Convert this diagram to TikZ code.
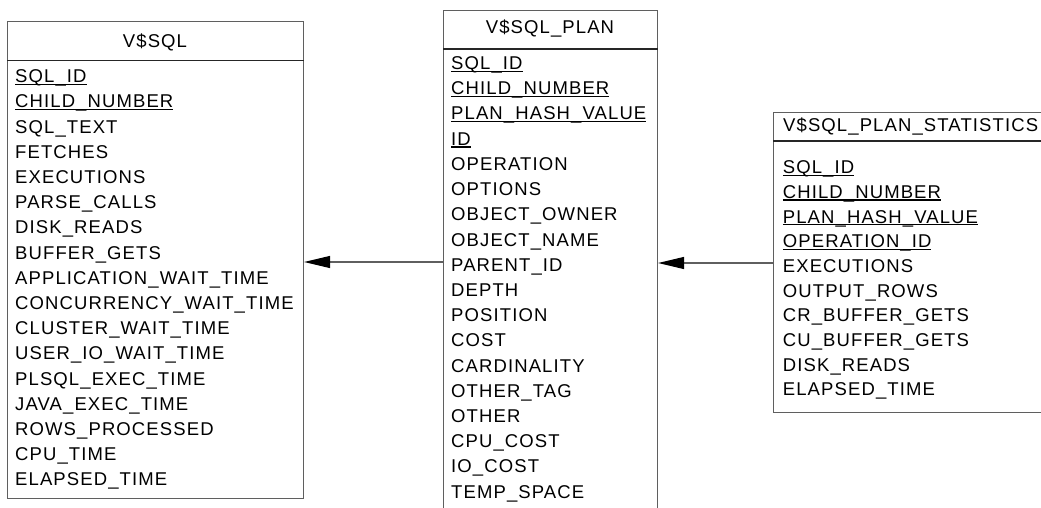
\documentclass[tikz,border=0pt]{standalone}
\usepackage{fontspec}
\setmainfont{Liberation Sans}[LetterSpace=6]
\usetikzlibrary{arrows.meta}
\definecolor{boxgray}{RGB}{95,95,95}
\newcommand\keyfld[1]{\setbox0\hbox{#1}\rlap{\usebox0}\rule[-2.4pt]{\wd0}{1.3pt}}
\begin{document}
\begin{tikzpicture}[x=1pt,y=-1pt,
  tbl/.style={draw=boxgray,line width=1.1pt,inner sep=0pt,anchor=north west,fill=white},
  hdr/.style={draw=black!85,line width=1.1pt},
  fld/.style={anchor=base west,inner sep=0pt,font=\fontsize{18.5}{20}\selectfont},
  ttl/.style={anchor=base,inner sep=0pt,font=\fontsize{18.5}{20}\selectfont},
  fk/.style={draw=boxgray,line width=1.1pt,-{Triangle[length=26pt,width=12pt,fill=black,color=black]}}]
\useasboundingbox (0,0) rectangle (1041,508);
\clip (0,0) rectangle (1041,508);
\fill[white] (0,0) rectangle (1041,508);
% V$SQL
\node[tbl,minimum width=296pt,minimum height=477pt] (sql) at (7,21) {};
\draw[hdr] (sql.west |- 0,60.7) coordinate (sqlh) -- (sql.east |- sqlh);
\node[ttl] (sqlt) at (155,47.3) {V\$SQL};
\foreach \t [count=\i from 0] in {\keyfld{SQL\_ID},\keyfld{CHILD\_NUMBER},SQL\_TEXT,FETCHES,EXECUTIONS,PARSE\_CALLS,DISK\_READS,BUFFER\_GETS,APPLICATION\_WAIT\_TIME,CONCURRENCY\_WAIT\_TIME,CLUSTER\_WAIT\_TIME,USER\_IO\_WAIT\_TIME,PLSQL\_EXEC\_TIME,JAVA\_EXEC\_TIME,ROWS\_PROCESSED,CPU\_TIME,ELAPSED\_TIME}
  \node[fld] (sqlf\i) at (15,82.7+25.2*\i) {\t};
% V$SQL_PLAN
\node[tbl,minimum width=214pt,minimum height=530pt] (plan) at (443,10) {};
\draw[hdr] (plan.west |- 0,49) coordinate (planh) -- (plan.east |- planh);
\node[ttl] (plant) at (550,33.6) {V\$SQL\_PLAN};
\foreach \t [count=\i from 0] in {\keyfld{SQL\_ID},\keyfld{CHILD\_NUMBER},\keyfld{PLAN\_HASH\_VALUE},\keyfld{ID},OPERATION,OPTIONS,OBJECT\_OWNER,OBJECT\_NAME,PARENT\_ID,DEPTH,POSITION,COST,CARDINALITY,OTHER\_TAG,OTHER,CPU\_COST,IO\_COST,TEMP\_SPACE}
  \node[fld] (planf\i) at (451,69.6+25.2*\i) {\t};
% V$SQL_PLAN_STATISTICS
\node[tbl,minimum width=330pt,minimum height=300pt] (stat) at (773,112) {};
\draw[hdr] (stat.west |- 0,141) coordinate (stath) -- (stat.east |- stath);
\node[ttl,anchor=base west] (statt) at (783,131.6) {V\$SQL\_PLAN\_STATISTICS};
\foreach \t [count=\i from 0] in {\keyfld{SQL\_ID},\keyfld{CHILD\_NUMBER},\keyfld{PLAN\_HASH\_VALUE},\keyfld{OPERATION\_ID},EXECUTIONS,OUTPUT\_ROWS,CR\_BUFFER\_GETS,CU\_BUFFER\_GETS,DISK\_READS,ELAPSED\_TIME}
  \node[fld] (statf\i) at (782.7,173.6+24.7*\i) {\t};
% connectors
\coordinate (lvl1) at (0,262);
\coordinate (lvl2) at (0,263);
\draw[fk] (plan.west |- lvl1) -- (sql.east |- lvl1);
\draw[fk] (stat.west |- lvl2) -- (plan.east |- lvl2);
\end{tikzpicture}
\end{document}
